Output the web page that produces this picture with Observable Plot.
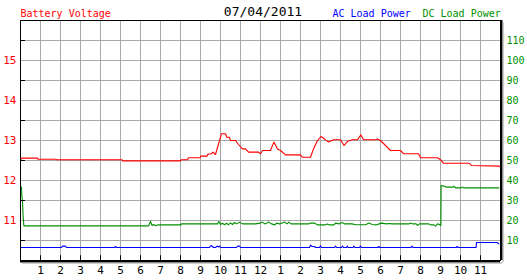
<!DOCTYPE html>
<html><head><meta charset="utf-8">
<script src="https://cdn.jsdelivr.net/npm/d3@7"></script>
<script src="https://cdn.jsdelivr.net/npm/@observablehq/plot@0.6"></script>
<style>body{margin:0;background:#fff} svg{display:block}</style>
</head><body><div id="chart"></div>
<script>
// hour of day (0–24) and battery voltage (V)
const batteryVoltage = [
  [0,12.50],[0.05,12.56],[0.85,12.56],[0.87,12.53],[1.78,12.53],[1.8,12.52],[5.08,12.52],[5.1,12.49],
  [8.0,12.49],[8.05,12.52],[8.35,12.52],[8.4,12.57],[8.98,12.57],[9.02,12.61],[9.32,12.61],[9.38,12.66],
  [9.55,12.67],[9.62,12.71],[9.75,12.65],[10.05,13.17],[10.25,13.17],[10.32,13.08],[10.45,13.08],[10.5,13.0],
  [10.75,13.0],[10.9,12.9],[11.1,12.79],[11.25,12.79],[11.4,12.71],[11.9,12.71],[12.0,12.67],[12.1,12.75],
  [12.5,12.75],[12.67,12.96],[12.85,12.79],[13.0,12.75],[13.25,12.64],[14.0,12.64],[14.1,12.58],[14.5,12.58],
  [14.65,12.79],[14.85,13.0],[15.03,13.1],[15.4,12.96],[15.65,13.02],[16.0,13.02],[16.18,12.875],[16.35,12.98],
  [16.6,13.02],[16.85,13.02],[17.02,13.14],[17.15,13.02],[17.75,13.02],[17.85,13.04],[18.0,13.0],[18.25,12.875],
  [18.5,12.75],[19.0,12.75],[19.15,12.67],[19.9,12.67],[20.0,12.57],[20.85,12.57],[21.0,12.52],[21.15,12.43],
  [22.45,12.43],[22.55,12.375],[23.95,12.36],[24.0,12.33]
];
// hour of day and DC load power
const dcLoadPower = [
  [0,36.7],[0.05,36.7],[0.07,32],[0.1,30],[0.13,22],[0.17,17.3],[6.4,17.3],[6.5,19.5],[6.58,17.5],[6.65,18],
  [6.75,17.4],[6.85,17.8],[8.02,17.8],[8.05,18.3],[9.85,18.3],[9.92,19.5],[10.0,18.0],[10.1,18.6],[10.2,17.9],
  [10.3,18.6],[10.4,17.9],[10.5,18.8],[10.6,18.0],[10.7,19.0],[10.8,18.3],[10.95,19.2],[11.1,18.3],[11.75,18.3],
  [12.0,18.7],[12.08,19.2],[12.22,18.3],[12.33,18.7],[12.42,19.2],[12.55,18.3],[12.72,17.8],[12.8,18.7],
  [12.95,18.3],[13.22,19.2],[13.33,18.3],[13.42,19.2],[13.53,18.3],[14.42,18.3],[14.5,18.7],[14.72,18.7],
  [14.83,17.8],[15.25,17.8],[15.33,18.3],[15.45,17.8],[15.67,17.8],[15.75,18.7],[15.92,18.3],[16.08,19.0],
  [16.22,18.3],[16.58,18.3],[16.75,17.9],[17.25,17.9],[17.42,18.7],[17.58,18.0],[17.78,17.8],[17.92,18.3],
  [18.08,18.7],[18.28,18.3],[18.42,18.5],[18.58,18.3],[19.42,18.3],[19.5,18.7],[19.62,18.3],[19.78,18.3],
  [19.85,17.5],[19.95,18.3],[20.42,18.3],[20.53,17.8],[20.67,17.8],[20.75,17.2],[20.85,18.3],[20.95,18.0],
  [21.02,17.5],[21.03,37.5],[21.17,37.2],[21.28,36.7],[21.62,36.7],[21.67,37.2],[21.75,36.3],[22.03,36.3],
  [22.08,36.7],[22.17,36.3],[23.92,36.3]
];
// hour of day and AC load power
const acLoadPower = [
  [0,6.5],[2.05,6.5],[2.1,7.2],[2.25,7.2],[2.3,6.5],[4.7,6.5],[4.75,7.0],[4.8,6.5],[9.45,6.5],[9.52,7.5],
  [9.6,7.0],[9.65,6.5],[9.75,6.5],[9.83,7.2],[9.9,6.8],[9.95,7.2],[10.0,6.5],[10.8,6.5],[10.86,7.2],[10.95,7.2],
  [11.0,6.5],[14.45,6.5],[14.5,7.7],[14.58,7.0],[14.7,7.0],[14.75,6.5],[14.95,6.5],[15.0,7.3],[15.05,6.5],
  [15.7,6.5],[15.75,7.2],[15.8,6.5],[16.05,6.5],[16.1,7.2],[16.15,6.5],[16.3,6.5],[16.33,7.2],[16.38,6.5],
  [16.62,6.5],[16.67,7.2],[16.72,6.5],[16.95,6.5],[17.0,7.2],[17.05,6.5],[17.87,6.5],[17.92,7.0],[17.97,6.5],
  [19.53,6.5],[19.58,7.2],[19.63,6.5],[21.78,6.5],[21.83,7.0],[21.88,6.5],[22.78,6.5],[22.8,9.0],[23.83,9.0],
  [23.92,8.3]
];
const hourTicks = [1,2,3,4,5,6,7,8,9,10,11,12,13,14,15,16,17,18,19,20,21,22,23];
const hourLabels = ["1","2","3","4","5","6","7","8","9","10","11","12","1","2","3","4","5","6","7","8","9","10","11"];
const voltTicks = [11,12,13,14,15];
const powerTicks = [10,20,30,40,50,60,70,80,90,100,110];
const gridVolts = [10.5,11,11.5,12,12.5,13,13.5,14,14.5,15,15.5];
const minorVolts = [10.5,11.5,12.5,13.5,14.5,15.5];

const RED = "#ff0000", GREEN = "#009000", BLUE = "#0000ff", GRID = "#a8a8a8";
const pw = p => 10 + p / 20; // power (0–120) on the voltage (10–16) scale
const FONT = "DejaVu Sans Mono";

const chart = Plot.plot({
  width: 527, height: 280,
  marginLeft: 20, marginRight: 27, marginTop: 20, marginBottom: 20,
  style: {fontFamily: FONT, background: "white", overflow: "visible"},
  x: {domain: [0, 24]},
  y: {domain: [10, 16]},
  marks: [
    Plot.ruleX(hourTicks, {stroke: GRID}),
    Plot.ruleY(gridVolts, {stroke: GRID}),
    Plot.line(acLoadPower, {x: d => d[0], y: d => pw(d[1]), stroke: BLUE, strokeWidth: 1.1}),
    Plot.line(dcLoadPower, {x: d => d[0], y: d => pw(d[1]), stroke: GREEN, strokeWidth: 1.1}),
    Plot.line(batteryVoltage, {x: d => d[0], y: d => d[1], stroke: RED, strokeWidth: 1.1}),
    Plot.ruleX(hourTicks, {y1: 10, y2: 10.12, stroke: "black"}),
    Plot.ruleY(minorVolts, {x1: 0, x2: 0.25, stroke: "black"}),
    Plot.frame({stroke: "black"}),
    Plot.ruleX([24], {stroke: "black", strokeWidth: 2, dx: 1}),
    Plot.ruleY([10], {stroke: "black", strokeWidth: 2, dy: 1}),
    Plot.ruleX([24], {stroke: "#999", strokeWidth: 1, dx: 2.5, dy: 2}),
    Plot.ruleY([10], {stroke: "#999", strokeWidth: 1, dy: 2.5, dx: 2}),
    Plot.axisX({ticks: hourTicks, tickFormat: d => hourLabels[hourTicks.indexOf(d)], tickSize: 0, tickPadding: 6, fontSize: 11, color: "black", label: null}),
    Plot.axisY({anchor: "left", ticks: voltTicks, tickFormat: d => String(d), tickSize: 0, tickPadding: 4, fontSize: 11, color: RED, label: null}),
    Plot.axisY({anchor: "right", ticks: powerTicks.map(pw), tickFormat: d => String(Math.round((d - 10) * 20)), tickSize: 0, tickPadding: 6, fontSize: 10, color: GREEN, label: null}),
    Plot.text(["Battery Voltage"], {frameAnchor: "top-left", textAnchor: "start", lineAnchor: "middle", dy: -6.5, fill: RED, fontSize: 10}),
    Plot.text(["07/04/2011"], {frameAnchor: "top", textAnchor: "middle", lineAnchor: "middle", dx: 2.5, dy: -9, fill: "black", fontSize: 13, fontWeight: 400}),
    Plot.text(["AC Load Power"], {frameAnchor: "top-left", textAnchor: "start", lineAnchor: "middle", dx: 312, dy: -6.5, fill: BLUE, fontSize: 10}),
    Plot.text(["DC Load Power"], {frameAnchor: "top-left", textAnchor: "start", lineAnchor: "middle", dx: 402, dy: -6.5, fill: GREEN, fontSize: 10})
  ]
});
document.getElementById("chart").append(chart);
</script></body></html>
